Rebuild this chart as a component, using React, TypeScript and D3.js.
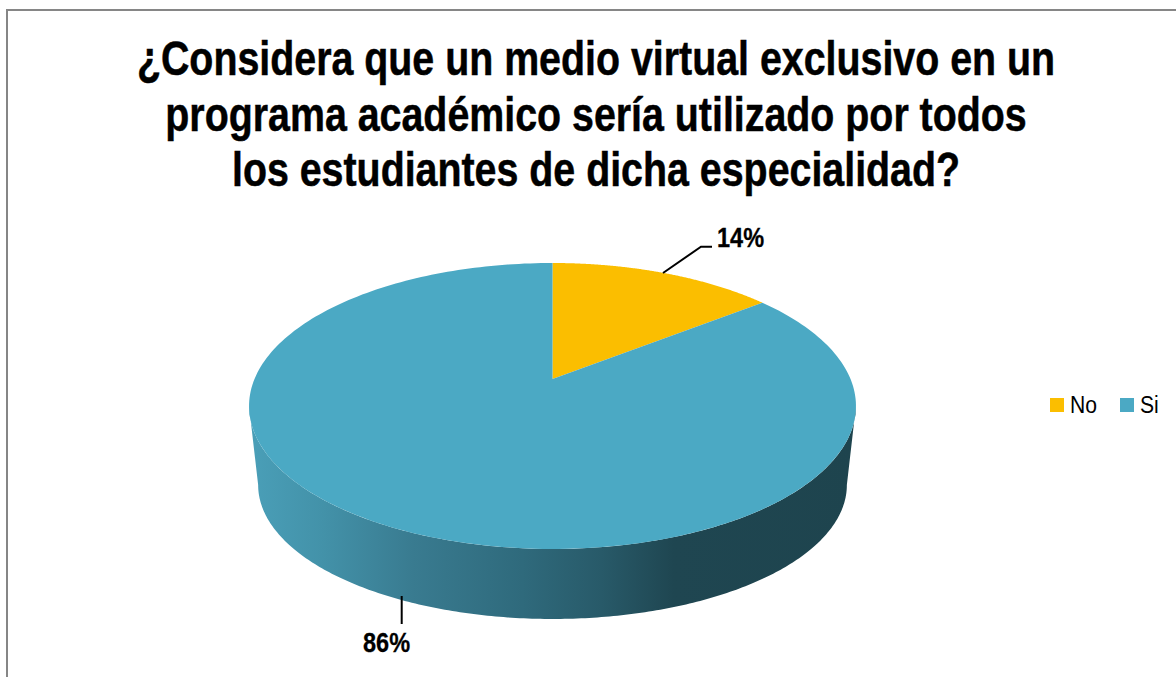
import React from "react";
import * as d3 from "d3";

const categories = ["No", "Si"];
const seriesValues = [14.4, 85.6];
const sliceColors = ["#FBBE00", "#4BA9C4"];
const valueLabels = ["14%", "86%"];
const titleLines = [
  "¿Considera que un medio virtual exclusivo en un",
  "programa académico sería utilizado por todos",
  "los estudiantes de dicha especialidad?",
];

const FONT = "'Liberation Sans', Arial, sans-serif";

// perspective projection of the pie's circle
const cx = 552.5;
const apexY = 379;
const k = -0.1888;
const B = 137.9;
const A = 298;
const ellipseCy = 406;
const depth = 79;
const bottomSx = 0.97;
const bottomSy = 0.937;

type P = [number, number];
const top = (t: number): P => {
  const X = Math.sin(t);
  const Y = -Math.cos(t);
  const w = 1 + k * Y;
  return [cx + (A * X) / w, apexY + (B * Y) / w];
};
const bottom = (t: number): P => {
  const [x, y] = top(t);
  return [cx + (x - cx) * bottomSx, ellipseCy + depth + (y - ellipseCy) * bottomSy];
};
const sample = (f: (t: number) => P, a: number, b: number, n = 240): P[] =>
  d3.range(n + 1).map((i) => f(a + ((b - a) * i) / n));

const line = d3.line<P>();
const pie = d3.pie<number>().sort(null);
const arcs = pie(seriesValues);

const widest = Math.acos(k);
const sidePath =
  (line([
    ...sample(top, widest, 2 * Math.PI - widest),
    ...sample(bottom, 2 * Math.PI - widest, widest),
  ]) as string) + "Z";

const gradientStops: [number, string][] = [
  [0, "#4A9FB8"],
  [0.12, "#4392A9"],
  [0.27, "#397B90"],
  [0.45, "#2F6A7C"],
  [0.58, "#285A69"],
  [0.7, "#1F4651"],
  [1, "#1E444E"],
];

const Narrow = ({ x, y, size, weight, anchor, squeeze = 0.82, bold = 0, children }: any) => (
  <text
    transform={`translate(${x},${y}) scale(${squeeze},1)`}
    fontSize={size}
    fontWeight={weight}
    textAnchor={anchor}
    fill="#000"
    stroke="#000"
    strokeWidth={bold}
  >
    {children}
  </text>
);

export default function App() {
  return (
    <svg
      width={1176}
      height={677}
      style={{ position: "absolute", left: 0, top: 0, background: "#fff" }}
      fontFamily={FONT}
    >
      <defs>
        <linearGradient id="side" gradientUnits="userSpaceOnUse" x1={249} x2={856} y1={0} y2={0}>
          {gradientStops.map(([o, c]) => (
            <stop key={o} offset={o} stopColor={c} />
          ))}
        </linearGradient>
      </defs>
      <rect x={7} y={10} width={1180} height={680} fill="#fff" stroke="#868686" strokeWidth={2} />

      {titleLines.map((t, i) => (
        <Narrow key={i} x={596} y={75 + i * 55.5} size={48} weight={700} anchor="middle" bold={0.5}>
          {t}
        </Narrow>
      ))}

      <path d={sidePath} fill="url(#side)" />
      {arcs.map((a, i) => (
        <path
          key={categories[i]}
          d={(line([[cx, apexY], ...sample(top, a.startAngle, a.endAngle)]) as string) + "Z"}
          fill={sliceColors[i]}
        />
      ))}

      <path d="M663,273L701,246.7L712,246.7" fill="none" stroke="#000" strokeWidth={2} />
      <path d="M401.7,596V624" fill="none" stroke="#000" strokeWidth={2} />
      <Narrow x={717} y={247} size={28} weight={700} squeeze={0.84} bold={0.3}>
        {valueLabels[0]}
      </Narrow>
      <Narrow x={363} y={652} size={28} weight={700} squeeze={0.84} bold={0.3}>
        {valueLabels[1]}
      </Narrow>

      {categories.map((c, i) => (
        <g key={c} transform={`translate(${1050 + i * 70},398)`}>
          <rect width={14} height={14} fill={sliceColors[i]} />
          <Narrow x={20} y={15} size={24} weight={400} squeeze={0.88}>
            {c}
          </Narrow>
        </g>
      ))}
    </svg>
  );
}
